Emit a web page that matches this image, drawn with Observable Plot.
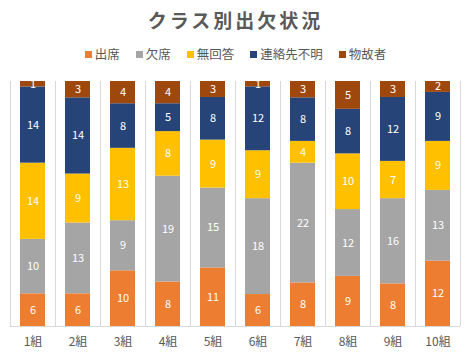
<!DOCTYPE html>
<html><head><meta charset="utf-8">
<script src="https://cdn.jsdelivr.net/npm/d3@7"></script>
<script src="https://cdn.jsdelivr.net/npm/@observablehq/plot@0.6"></script>
<style>
body{margin:0;background:#fff;font-family:"Noto Sans CJK JP","Noto Sans",sans-serif;}
#wrap{width:471px;height:361px;position:relative;overflow:hidden;}
#title{position:absolute;top:6px;left:0;width:471px;text-align:center;font-size:19px;font-weight:bold;color:#595959;letter-spacing:3px;line-height:28px;}
#legend{position:absolute;top:44px;left:0;width:471px;display:flex;justify-content:center;gap:16px;font-size:12.5px;color:#595959;line-height:20px;}
#legend span.item{display:flex;align-items:center;}
#legend span.sw{display:inline-block;width:7px;height:7px;margin-right:3px;}
#chart{position:absolute;top:70px;left:0;}
</style></head>
<body><div id="wrap"><div id="title">クラス別出欠状況</div><div id="legend"></div><div id="chart"></div></div>
<script>
const classes = ["1組","2組","3組","4組","5組","6組","7組","8組","9組","10組"];
const seriesNames = ["出席","欠席","無回答","連絡先不明","物故者"];
const colors = ["#ED7D31","#A5A5A5","#FFC000","#264478","#9E480E"];
const attend   = [6,6,10,8,11,6,8,9,8,12];
const absent   = [10,13,9,19,15,18,22,12,16,13];
const noAnswer = [14,9,13,8,9,9,4,10,7,9];
const unknown  = [14,14,8,5,8,12,8,8,12,9];
const deceased = [1,3,4,4,3,1,3,5,3,2];
const seriesValues = [attend, absent, noAnswer, unknown, deceased];

const data = [];
seriesNames.forEach((s, si) => classes.forEach((c, ci) => data.push({cls: c, series: s, value: seriesValues[si][ci]})));

const legend = document.getElementById("legend");
seriesNames.forEach((s, i) => {
  const it = document.createElement("span"); it.className = "item";
  it.innerHTML = `<span class="sw" style="background:${colors[i]}"></span>${s}`;
  legend.appendChild(it);
});

const step = 45;
const chart = Plot.plot({
  width: 471, height: 291,
  marginLeft: 10, marginRight: 11, marginTop: 11, marginBottom: 35,
  style: {fontFamily: '"Noto Sans CJK JP","Noto Sans",sans-serif', background: "#fff"},
  x: {domain: classes, paddingInner: 0.44, paddingOuter: 0.22, label: null},
  y: {axis: null, domain: [0, 1]},
  color: {domain: seriesNames, range: colors},
  marks: [
    Plot.ruleX(classes, {x: d => d, dx: -step/2, stroke: "#d9d9d9", strokeWidth: 1}),
    Plot.ruleX([classes[classes.length-1]], {x: d => d, dx: step/2, stroke: "#d9d9d9", strokeWidth: 1}),
    Plot.barY(data, Plot.stackY({x: "cls", y: "value", fill: "series", order: seriesNames, offset: "normalize"})),
    Plot.text(data, Plot.stackY({x: "cls", y: "value", z: "series", order: seriesNames, offset: "normalize", text: "value", fill: "white", fontSize: 11})),
    Plot.ruleY([0], {stroke: "#d9d9d9"}),
    Plot.axisX({tickSize: 0, tickPadding: 11, fontSize: 12, fill: "#595959", label: null})
  ]
});
document.getElementById("chart").appendChild(chart);
</script></body></html>
